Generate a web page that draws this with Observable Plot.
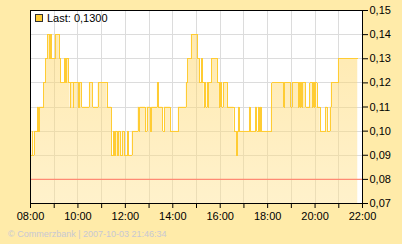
<!DOCTYPE html>
<html><head><meta charset="utf-8">
<script src="https://cdn.jsdelivr.net/npm/d3@7"></script>
<script src="https://cdn.jsdelivr.net/npm/@observablehq/plot@0.6"></script>
<style>html,body{margin:0;padding:0;background:#FFEBA9;} svg{display:block;}</style>
</head><body><div id="chart"></div>
<script>
const day = "2007-10-03";
const times = ["08:00","08:04","08:06","08:09","08:18","08:21","08:22","08:33","08:39","08:43","08:49","08:51","08:54","09:02","09:13","09:16","09:26","09:29","09:31","09:36","09:40","09:42","09:48","09:50","10:01","10:04","10:10","10:29","10:37","10:51","11:14","11:25","11:26","11:30","11:32","11:35","11:41","11:43","11:48","11:52","11:58","12:05","12:09","12:17","12:32","12:35","12:37","12:51","12:55","13:04","13:07","13:21","13:23","13:35","13:39","13:54","14:14","14:34","14:38","14:47","15:02","15:08","15:13","15:15","15:19","15:21","15:24","15:27","15:29","15:31","15:39","15:53","15:58","16:00","16:04","16:08","16:18","16:35","16:41","16:43","16:46","16:48","17:14","17:16","17:30","17:33","17:37","17:39","17:42","17:44","18:09","18:11","18:41","18:43","18:58","19:02","19:18","19:20","19:23","19:25","19:28","19:29","19:36","19:47","19:53","19:55","19:58","20:00","20:05","20:13","20:27","20:31","20:38","20:41","20:59","21:48"];
const values = [0.09,0.10,0.09,0.10,0.11,0.10,0.11,0.12,0.13,0.14,0.13,0.14,0.13,0.14,0.13,0.12,0.13,0.12,0.13,0.12,0.11,0.12,0.11,0.12,0.11,0.12,0.11,0.12,0.11,0.12,0.11,0.10,0.09,0.10,0.09,0.10,0.09,0.10,0.09,0.10,0.09,0.10,0.09,0.10,0.11,0.10,0.11,0.10,0.11,0.10,0.11,0.12,0.11,0.10,0.11,0.10,0.11,0.12,0.13,0.14,0.13,0.12,0.13,0.12,0.11,0.12,0.11,0.12,0.11,0.12,0.13,0.12,0.11,0.12,0.11,0.12,0.11,0.10,0.09,0.10,0.11,0.10,0.11,0.10,0.11,0.10,0.11,0.10,0.11,0.10,0.11,0.12,0.11,0.12,0.11,0.12,0.11,0.12,0.11,0.12,0.11,0.12,0.11,0.12,0.11,0.12,0.11,0.12,0.11,0.10,0.11,0.10,0.11,0.12,0.13,0.13];
const hourLabels = ["08:00","09:00","10:00","11:00","12:00","13:00","14:00","15:00","16:00","17:00","18:00","19:00","20:00","21:00","22:00"];
const yTicks = [0.07,0.08,0.09,0.10,0.11,0.12,0.13,0.14,0.15];
const referenceLevel = 0.08;
const lastLabel = "Last: 0,1300";
const footerText = "© Commerzbank | 2007-10-03 21:46:34";

const parse = t => new Date(`${day}T${t}:00Z`);
const data = times.map((t, i) => ({date: parse(t), value: values[i]}));
const hourTicks = hourLabels.map(parse);
const fmt = d3.utcFormat("%H:%M");

const W = 402, H = 244, mL = 30, mR = 40, mT = 10, mB = 41;
const FONT = "'Liberation Sans', Arial, sans-serif";

const chart = Plot.plot({
  width: W, height: H,
  marginLeft: mL, marginRight: mR, marginTop: mT, marginBottom: mB,
  style: {background: "transparent", fontFamily: FONT, fontSize: "11px", color: "#000"},
  x: {type: "utc", domain: [hourTicks[0], hourTicks[hourTicks.length - 1]], ticks: hourTicks,
      tickFormat: d => d.getUTCHours() % 2 ? "" : fmt(d), tickSize: 5, tickPadding: 4, label: null},
  y: {domain: [yTicks[0], yTicks[yTicks.length - 1]], ticks: yTicks, axis: "right",
      tickFormat: d => d.toFixed(2).replace(".", ","), tickSize: 5, tickPadding: 2, label: null},
  marks: [
    Plot.frame({fill: "white"}),
    Plot.ruleX(hourTicks, {stroke: "#DCDCDC", shapeRendering: "crispEdges"}),
    Plot.ruleY(yTicks, {stroke: "#DCDCDC", shapeRendering: "crispEdges"}),
    Plot.areaY(data, {x: "date", y1: yTicks[0], y2: "value", curve: "step-after", fill: "url(#areaGrad)"}),
    Plot.lineY(data, {x: "date", y: "value", curve: "step-after", stroke: "#FFCC33", strokeWidth: 1, shapeRendering: "crispEdges"}),
    Plot.ruleY([referenceLevel], {stroke: "#FF8A74", strokeOpacity: 1, strokeWidth: 1.2}),
    Plot.frame({stroke: "black", shapeRendering: "crispEdges"})
  ]
});

const svg = d3.select(chart);
const defs = svg.insert("defs", ":first-child");
const g = defs.append("linearGradient").attr("id", "areaGrad")
  .attr("gradientUnits", "userSpaceOnUse").attr("x1", 0).attr("x2", 0).attr("y1", mT).attr("y2", H - mB);
g.append("stop").attr("offset", "0%").attr("stop-color", "#FFD25A").attr("stop-opacity", 0.5);
g.append("stop").attr("offset", "100%").attr("stop-color", "#FFE18C").attr("stop-opacity", 0.45);

// legend
svg.append("rect").attr("x", 35.5).attr("y", 14.5).attr("width", 7).attr("height", 7)
  .attr("fill", "#FFCC33").attr("stroke", "#333");
svg.append("text").attr("x", 47).attr("y", 22).attr("font-size", 11).attr("text-anchor", "start")
  .attr("font-family", FONT).attr("fill", "#000").text(lastLabel);
// footer
svg.append("text").attr("x", 8).attr("y", 237).attr("font-size", 9).attr("text-anchor", "start")
  .attr("font-family", FONT).attr("fill", "#C8C8D4").text(footerText);

document.getElementById("chart").appendChild(chart);
</script>
</body></html>
